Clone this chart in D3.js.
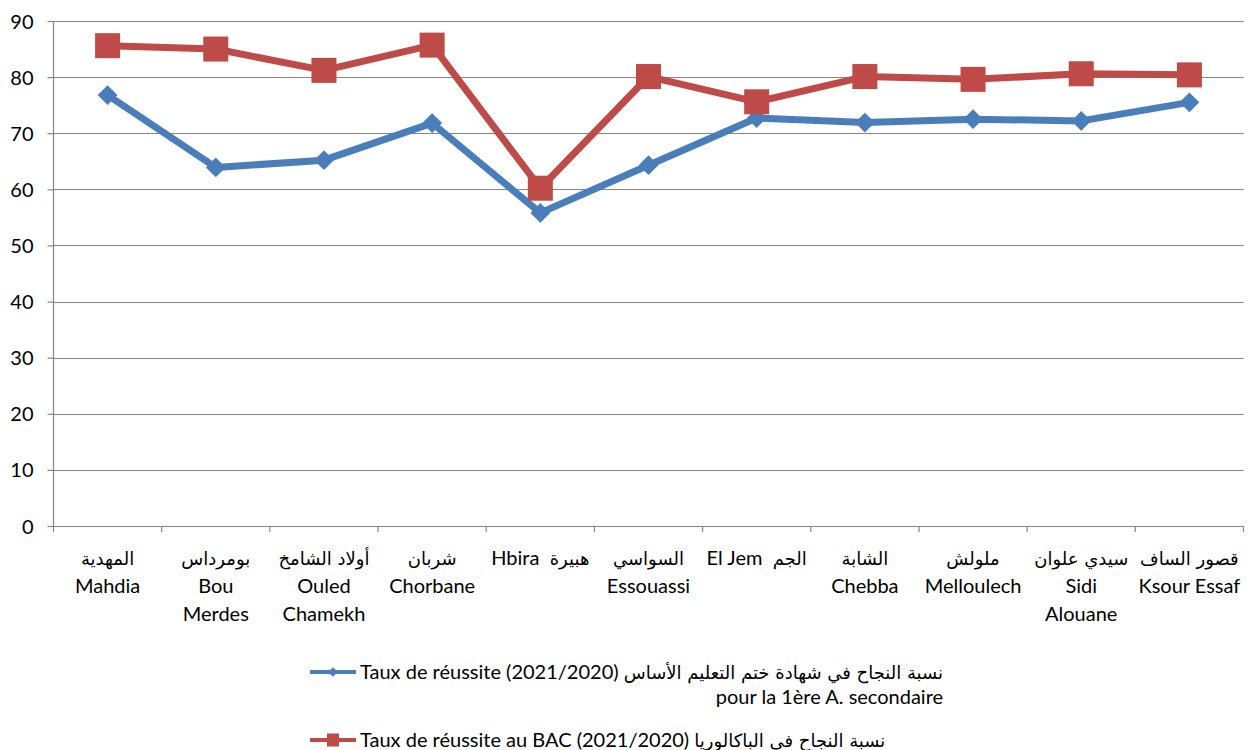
<!DOCTYPE html>
<html>
<head>
<meta charset="utf-8">
<script src="https://cdn.jsdelivr.net/npm/d3@7"></script>
<style>
  body { margin: 0; background: #fff; }
  text { font-family: Lato, "DejaVu Sans", sans-serif; fill: #000; white-space: pre; }
</style>
</head>
<body>
<div id="chart"></div>
<script>
// data
var categories = ["Mahdia", "Bou Merdes", "Ouled Chamekh", "Chorbane", "Hbira", "Essouassi",
                  "El Jem", "Chebba", "Melloulech", "Sidi Alouane", "Ksour Essaf"];
var categoryLines = [
    ["المهدية", "Mahdia"],
    ["بومرداس", "Bou", "Merdes"],
    ["أولاد الشامخ", "Ouled", "Chamekh"],
    ["شربان", "Chorbane"],
    ["Hbira  هبيرة"],
    ["السواسي", "Essouassi"],
    ["El Jem  الجم"],
    ["الشابة", "Chebba"],
    ["ملولش", "Melloulech"],
    ["سيدي علوان", "Sidi", "Alouane"],
    ["قصور الساف", "Ksour Essaf"]
];
var basicRates = [76.8, 63.9, 65.2, 71.8, 55.8, 64.3, 72.7, 71.9, 72.5, 72.2, 75.5];
var bacRates   = [85.6, 85.0, 81.2, 85.7, 60.2, 80.1, 75.6, 80.1, 79.6, 80.6, 80.4];
var yTicks = [0, 10, 20, 30, 40, 50, 60, 70, 80, 90];
var legendLines = [
    ["Taux de réussite (2021/2020) نسبة النجاح في شهادة ختم التعليم الأساس", "pour la 1ère A. secondaire"],
    ["Taux de réussite au BAC (2021/2020) نسبة النجاح في الباكالوريا"]
];

var WIDTH = 1253, HEIGHT = 750;
var BLUE = "#4A7EBB", RED = "#BE4B48", GRID = "#868686";
var FONT_SIZE = 20, AR_SIZE = 18;

var svg = d3.select("#chart").append("svg")
    .attr("width", WIDTH)
    .attr("height", HEIGHT);

var x = d3.scaleBand().domain(categories).range([53.5, 1243.5]);
var y = d3.scaleLinear().domain([0, 90]).range([526, 21]);

// split a line into latin / arabic runs so arabic can get its own size
function addRuns(textSel, str) {
    var parts = str.split(/([\u0600-\u06FF]+(?:\s+[\u0600-\u06FF]+)*)/);
    parts.forEach(function(p) {
        if (p === "") return;
        var isAr = /[\u0600-\u06FF]/.test(p);
        textSel.append("tspan")
            .attr("font-size", isAr ? AR_SIZE : FONT_SIZE)
            .attr("font-family", isAr ? "'DejaVu Sans', sans-serif" : null)
            .text(p);
    });
}

// horizontal gridlines
svg.append("g")
    .selectAll("line")
    .data(yTicks.slice(1))
    .join("line")
    .attr("x1", x.range()[0])
    .attr("x2", x.range()[1])
    .attr("y1", function(d) { return Math.round(y(d)) + 0.5; })
    .attr("y2", function(d) { return Math.round(y(d)) + 0.5; })
    .attr("stroke", GRID)
    .attr("stroke-width", 1.2);

// y axis
var yAxis = svg.append("g")
    .attr("transform", "translate(" + x.range()[0] + ",0)")
    .call(d3.axisLeft(y).tickValues(yTicks).tickSize(6).tickPadding(14));
yAxis.select(".domain").attr("stroke", GRID).attr("stroke-width", 1.2)
    .attr("d", "M0," + y(90) + "V" + (y(0) + 6));
yAxis.selectAll(".tick line").attr("stroke", GRID).attr("stroke-width", 1.2);
yAxis.selectAll(".tick text").attr("font-size", FONT_SIZE).attr("font-family", null).attr("dy", "0.35em");

// x axis: line plus ticks on band edges
var xg = svg.append("g");
xg.append("line")
    .attr("x1", x.range()[0]).attr("x2", x.range()[1])
    .attr("y1", y(0) + 0.5).attr("y2", y(0) + 0.5)
    .attr("stroke", GRID).attr("stroke-width", 1.2);
var edges = categories.map(function(c) { return x(c) + x.bandwidth(); });
xg.selectAll(".xt")
    .data(edges)
    .join("line")
    .attr("class", "xt")
    .attr("x1", function(d) { return d; }).attr("x2", function(d) { return d; })
    .attr("y1", y(0)).attr("y2", y(0) + 6)
    .attr("stroke", GRID).attr("stroke-width", 1.2);

// category labels
categories.forEach(function(c, i) {
    var cx = x(c) + x.bandwidth() / 2;
    categoryLines[i].forEach(function(line, j) {
        var t = svg.append("text")
            .attr("x", cx)
            .attr("y", y(0) + 39 + j * 28)
            .attr("text-anchor", "middle");
        addRuns(t, line);
    });
});

// series
var lineGen = d3.line()
    .x(function(d, i) { return x(categories[i]) + x.bandwidth() / 2; })
    .y(function(d) { return y(d); });

svg.append("path")
    .datum(basicRates)
    .attr("d", lineGen)
    .attr("fill", "none")
    .attr("stroke", BLUE)
    .attr("stroke-width", 7)
    .attr("stroke-linejoin", "round");

svg.append("g")
    .selectAll("path")
    .data(basicRates)
    .join("path")
    .attr("d", d3.symbol().type(d3.symbolDiamond2).size(250))
    .attr("transform", function(d, i) {
        return "translate(" + (x(categories[i]) + x.bandwidth() / 2) + "," + y(d) + ")";
    })
    .attr("fill", BLUE);

svg.append("path")
    .datum(bacRates)
    .attr("d", lineGen)
    .attr("fill", "none")
    .attr("stroke", RED)
    .attr("stroke-width", 7)
    .attr("stroke-linejoin", "round");

svg.append("g")
    .selectAll("rect")
    .data(bacRates)
    .join("rect")
    .attr("x", function(d, i) { return x(categories[i]) + x.bandwidth() / 2 - 12.5; })
    .attr("y", function(d) { return y(d) - 12.5; })
    .attr("width", 25)
    .attr("height", 25)
    .attr("fill", RED);

// legend
var legend = svg.append("g");
var legendRows = [
    { color: BLUE, shape: "diamond", lines: legendLines[0], y: 672 },
    { color: RED, shape: "square", lines: legendLines[1], y: 740 }
];
legendRows.forEach(function(r) {
    legend.append("line")
        .attr("x1", 310).attr("x2", 356)
        .attr("y1", r.y).attr("y2", r.y)
        .attr("stroke", r.color).attr("stroke-width", 4);
    if (r.shape == "diamond") {
        legend.append("path")
            .attr("d", d3.symbol().type(d3.symbolDiamond2).size(60))
            .attr("transform", "translate(333," + r.y + ")")
            .attr("fill", r.color);
    } else {
        legend.append("rect")
            .attr("x", 327).attr("y", r.y - 6.5)
            .attr("width", 12).attr("height", 13)
            .attr("fill", r.color);
    }
    var first = legend.append("text")
        .attr("x", 360)
        .attr("y", r.y + 7);
    addRuns(first, r.lines[0]);
    var endX = 360 + first.node().getComputedTextLength();
    r.lines.slice(1).forEach(function(l, k) {
        var t = legend.append("text")
            .attr("x", endX)
            .attr("y", r.y + 7 + (k + 1) * 25)
            .attr("text-anchor", "end");
        addRuns(t, l);
    });
});
</script>
</body>
</html>
